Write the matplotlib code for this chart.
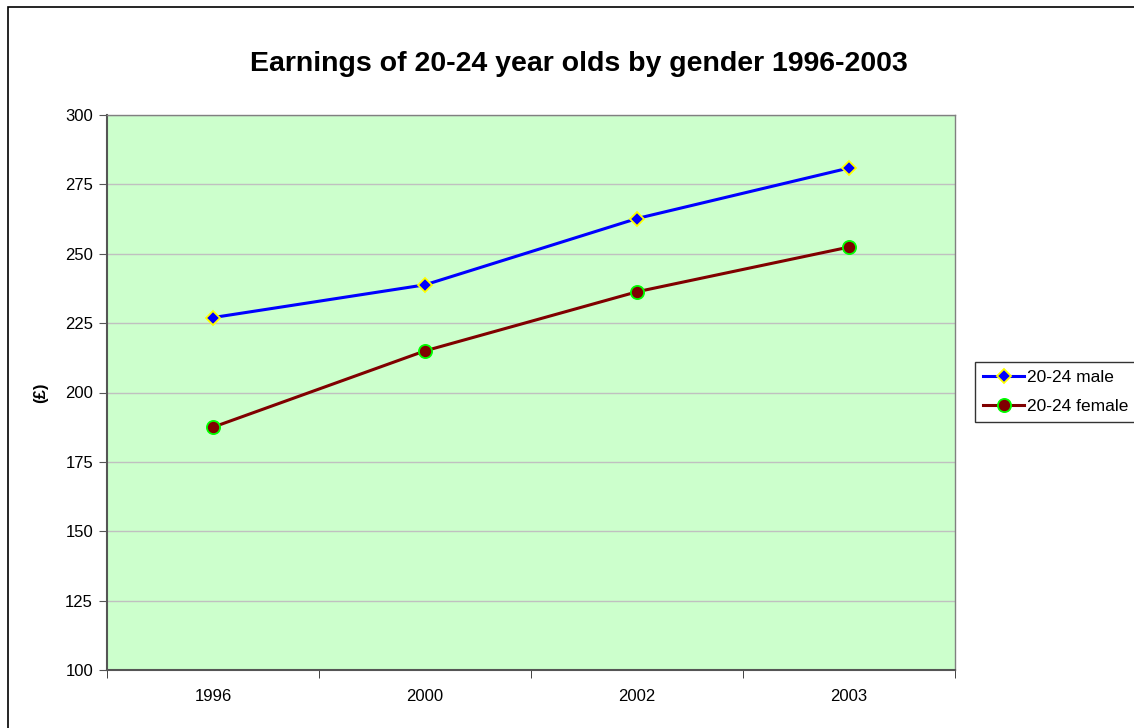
import matplotlib
matplotlib.use("Agg")
import matplotlib.pyplot as plt
from matplotlib.patches import Rectangle

years = ["1996", "2000", "2002", "2003"]
male = [227.0, 238.8, 262.7, 280.9]
female = [187.5, 215.0, 236.3, 252.4]
yticks = [100, 125, 150, 175, 200, 225, 250, 275, 300]

plt.rcParams['font.family'] = ['Liberation Sans', 'DejaVu Sans']

fig = plt.figure(figsize=(11.34, 7.28), dpi=100)
fig.patches.append(Rectangle((8/1134, 1 - 7/728 - 760/728), 1200/1134, 760/728,
                             transform=fig.transFigure, fill=False, edgecolor='black', lw=1.2))

ax = fig.add_axes([107/1134, 1 - 670/728, (955 - 107)/1134, (670 - 115)/728])
ax.set_facecolor('#ccffcc')
x = list(range(len(years)))
ax.plot(x, male, color='#0000ff', lw=2.2, marker='D', markersize=7.5,
        markerfacecolor='#0000ff', markeredgecolor='#ffff00', markeredgewidth=1.3, label='20-24 male')
ax.plot(x, female, color='#800000', lw=2.2, marker='o', markersize=9.5,
        markerfacecolor='#800000', markeredgecolor='#00ff00', markeredgewidth=1.3, label='20-24 female')

ax.set_xlim(-0.5, len(years) - 0.5)
ax.set_ylim(100, 300)
ax.set_yticks(yticks)
ax.set_yticklabels([str(v) for v in yticks], fontsize=12)
ax.yaxis.grid(True, color='#c0c0c0', lw=1)
ax.set_axisbelow(True)
ax.set_xticks(x)
ax.set_xticklabels(years, fontsize=12)
ax.tick_params(axis='x', length=0, pad=14)
ax.set_xticks([i - 0.5 for i in range(len(years) + 1)], minor=True)
ax.tick_params(axis='x', which='minor', length=6, direction='out', color='#222222')
ax.tick_params(axis='y', length=6, direction='out', color='#555555', pad=4)
for s in ['left', 'bottom']:
    ax.spines[s].set_color('#555555')
    ax.spines[s].set_linewidth(1.5)
for s in ['top', 'right']:
    ax.spines[s].set_color('#808080')
    ax.spines[s].set_linewidth(1)
ax.set_ylabel('(£)', fontsize=12, fontweight='bold', labelpad=12)

fig.text(579 / 1134, 1 - 64/728, 'Earnings of 20-24 year olds by gender 1996-2003',
         ha='center', va='center', fontsize=20.5, fontweight='bold')

leg = fig.legend(loc='upper left', bbox_to_anchor=(975/1134, 1 - 362/728), fontsize=12.5,
                 frameon=True, fancybox=False, edgecolor='black', borderpad=0.45,
                 handlelength=2.4, handletextpad=0.15, labelspacing=0.8, borderaxespad=0)
leg.get_frame().set_linewidth(1)

fig.savefig('out.png', dpi=100)
